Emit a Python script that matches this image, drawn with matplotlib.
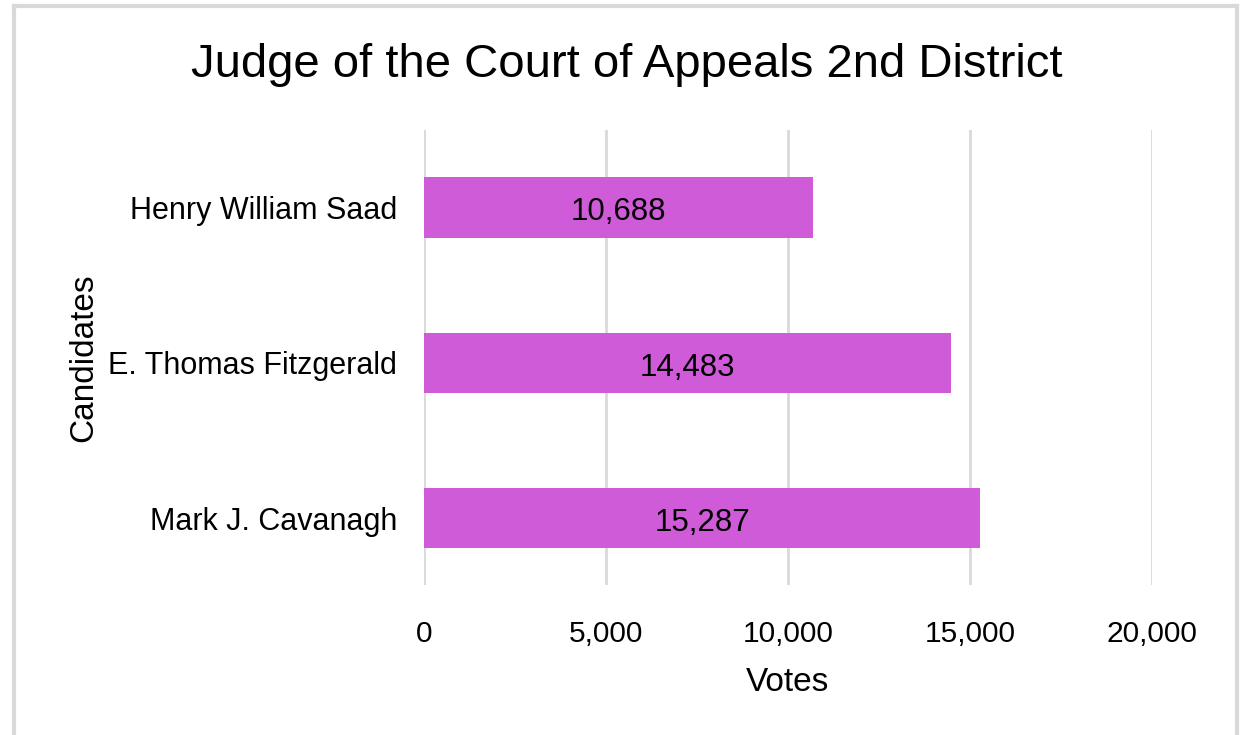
import matplotlib.pyplot as plt
from matplotlib.ticker import FuncFormatter
from matplotlib.lines import Line2D

plt.rcParams['font.family'] = ['Liberation Sans', 'DejaVu Sans']

candidates = ['Mark J. Cavanagh', 'E. Thomas Fitzgerald', 'Henry William Saad']
votes = [15287, 14483, 10688]
x_ticks = [0, 5000, 10000, 15000, 20000]

bar_color = '#cf5bd8'
grid_color = '#d9d9d9'

fig = plt.figure(figsize=(12.5, 7.35), dpi=100)
ax = fig.add_axes([0.3392, 0.2041, 0.5824, 0.619])

bars = ax.barh(range(len(candidates)), votes, height=0.39, color=bar_color, zorder=3)
for b, v in zip(bars, votes):
    ax.text(b.get_width() / 2, b.get_y() + b.get_height() / 2 - 0.03, f"{v:,}",
            ha='center', va='center', fontsize=22.5, color='black', zorder=4)

ax.set_xlim(0, 20000)
ax.set_ylim(-0.43, 2.5)
ax.set_xticks(x_ticks)
ax.xaxis.set_major_formatter(FuncFormatter(lambda v, p: f"{int(v):,}"))
ax.set_yticks(range(len(candidates)))
ax.set_yticklabels(candidates)
ax.tick_params(axis='x', length=0, pad=25, labelsize=21.5)
ax.tick_params(axis='y', length=0, pad=19.5, labelsize=22)
ax.grid(axis='x', color=grid_color, linewidth=2, zorder=0)
for s in ax.spines.values():
    s.set_visible(False)

ax.set_xlabel("Votes", fontsize=24, labelpad=14)
ax.set_ylabel("Candidates", fontsize=24, labelpad=6)
fig.text(0.5014, 0.911, "Judge of the Court of Appeals 2nd District",
         ha='center', va='center', fontsize=34)

# light grey frame around the chart (bottom edge is cut off)
x0, x1, yt = 14 / 1250, 1237 / 1250, 1 - 6 / 735
for xs, ys in [([x0, x0], [0, yt]), ([x0, x1], [yt, yt]), ([x1, x1], [yt, 0])]:
    fig.add_artist(Line2D(xs, ys, color=grid_color, linewidth=3, transform=fig.transFigure))

plt.savefig('out.png', dpi=100)
